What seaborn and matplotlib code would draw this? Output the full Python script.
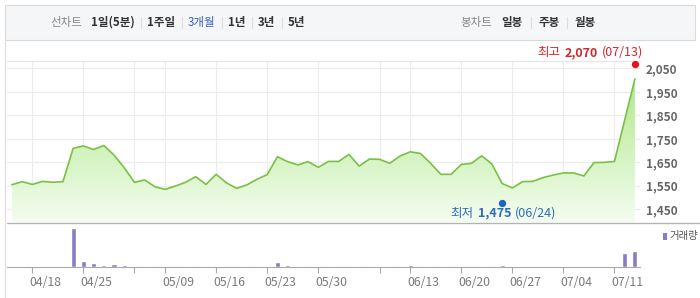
import numpy as np
import pandas as pd
import matplotlib
matplotlib.use("Agg")
import matplotlib.pyplot as plt
import seaborn as sns
from matplotlib.patches import Rectangle
from matplotlib.lines import Line2D
from matplotlib.colors import LinearSegmentedColormap
import matplotlib.transforms as mtransforms

# ---------------- data ----------------
dates = ["04/14", "04/15", "04/18", "04/19", "04/20", "04/21", "04/22",
         "04/25", "04/26", "04/27", "04/28", "04/29",
         "05/02", "05/03", "05/04",
         "05/09", "05/10", "05/11", "05/12", "05/13",
         "05/16", "05/17", "05/18", "05/19", "05/20",
         "05/23", "05/24", "05/25", "05/26", "05/27",
         "05/30", "05/31", "06/01", "06/02", "06/03",
         "06/07", "06/08", "06/09", "06/10",
         "06/13", "06/14", "06/15", "06/16", "06/17",
         "06/20", "06/21", "06/22", "06/23", "06/24",
         "06/27", "06/28", "06/29", "06/30", "07/01",
         "07/04", "07/05", "07/06", "07/07", "07/08",
         "07/11", "07/12", "07/13"]
close = [1555, 1568, 1556, 1569, 1565, 1568, 1710,
         1720, 1705, 1722, 1681, 1627,
         1565, 1575, 1546,
         1535, 1549, 1565, 1589, 1556,
         1599, 1563, 1539, 1554, 1578,
         1598, 1674, 1653, 1639, 1653,
         1629, 1654, 1654, 1684, 1634,
         1664, 1663, 1646, 1677,
         1695, 1688, 1646, 1599, 1599,
         1641, 1646, 1678, 1643, 1560,
         1541, 1568, 1569, 1585, 1596,
         1605, 1605, 1592, 1649, 1650,
         1654, 1830, 2005]
volume = [0.5, 0.5, 0.5, 0.5, 0.5, 0.5, 118,
          18, 10, 5, 7, 4,
          2, 1, 1,
          1, 1, 1, 1, 1,
          1, 1, 1, 1, 1,
          1, 15, 5, 2, 1,
          1, 1, 1, 2, 2,
          1, 1, 1, 1,
          5, 2, 2, 2, 2,
          1, 1, 1, 1, 4,
          0.5, 0.5, 0.5, 0.5, 0.5,
          0.5, 0.5, 0.5, 2, 0.5,
          0.5, 43, 47]
grid_dates = ["04/18", "04/25", "05/02", "05/09", "05/16", "05/23", "05/30",
              "06/08", "06/13", "06/20", "06/27", "07/04", "07/11"]
grid_labels = ["04/18", "04/25", "", "05/09", "05/16", "05/23", "05/30",
               "", "06/13", "06/20", "06/27", "07/04", "07/11"]
y_ticks = [1450, 1550, 1650, 1750, 1850, 1950, 2050]
high_value, high_date = 2070, "07/13"
low_value, low_date = 1475, "06/24"
header_left = [("선차트", "normal", "#888888"), ("1일(5분)", "bold", "#333333"),
               ("1주일", "bold", "#333333"), ("3개월", "normal", "#3a5fbf"),
               ("1년", "bold", "#333333"), ("3년", "bold", "#333333"),
               ("5년", "bold", "#333333")]
header_right = [("봉차트", "normal", "#888888"), ("일봉", "bold", "#333333"),
                ("주봉", "bold", "#333333"), ("월봉", "bold", "#333333")]
legend_label = "거래량"

# ---------------- setup ----------------
sns.set_theme(style="white")
plt.rcParams['font.family'] = ['Noto Sans CJK KR', 'DejaVu Sans']

W, H = 700, 298
fig = plt.figure(figsize=(W / 100, H / 100), dpi=100)
fig.patch.set_facecolor("white")


def fx(px):
    return px / W


def fy(py):
    return 1 - py / H


df = pd.DataFrame({"pos": np.arange(len(dates)), "date": dates,
                   "close": close, "volume": volume})
pos_of = {d: i for i, d in enumerate(dates)}
grid_pos = [pos_of[d] for d in grid_dates]
XL = (-0.48, 61.5)
YL = (1396, 2083)

# ---------------- header ----------------
fig.add_artist(Rectangle((fx(5), fy(40)), fx(690), 35 / H, transform=fig.transFigure,
                         facecolor="#f5f6f8", edgecolor="#dadada", lw=0.8))
renderer = fig.canvas.get_renderer()


def header_group(items, x0, y, first_gap, gap):
    cur = x0
    for k, (s, w, c) in enumerate(items):
        t = fig.text(fx(cur), fy(y), s, fontsize=8.3, fontweight=w, color=c,
                     ha="left", va="center")
        wd = t.get_window_extent(renderer).width
        cur += wd
        if k == 0:
            cur += first_gap
            continue
        if k < len(items) - 1:
            fig.add_artist(Line2D([fx(cur + gap / 2)] * 2, [fy(y - 5.5), fy(y + 5.5)],
                                  transform=fig.transFigure, color="#dddddd", lw=0.8))
        cur += gap


header_group(header_left, 50, 22.5, 9, 12.5)
header_group(header_right, 460, 22.5, 10, 15)

# left border
fig.add_artist(Line2D([fx(5), fx(5)], [fy(40), fy(298)], transform=fig.transFigure,
                      color="#dddddd", lw=0.8))

# ---------------- price panel ----------------
ax = fig.add_axes([fx(7), fy(222), fx(633), (222 - 60.7) / H])
poly = ax.fill_between(df["pos"], df["close"], YL[0], facecolor="none", edgecolor="none")
cmap = LinearSegmentedColormap.from_list("g", ["#f4fdf0", "#a8e57e"])
grad = np.linspace(0, 1, 256).reshape(-1, 1)
im = ax.imshow(grad, cmap=cmap, aspect="auto", origin="lower",
               extent=[df["pos"].min(), df["pos"].max(), YL[0], YL[1]], zorder=1)
im.set_clip_path(poly.get_paths()[0], transform=ax.transData)
sns.lineplot(data=df, x="pos", y="close", ax=ax, color="#79c145", lw=1.2, zorder=3)

ax.set_xlim(*XL)
ax.set_ylim(*YL)
ax.set_xticks(grid_pos)
ax.set_xticklabels([])
ax.set_yticks(y_ticks)
ax.set_yticklabels([f"{v:,}" for v in y_ticks])
ax.yaxis.tick_right()
ax.tick_params(axis="y", length=0, pad=4, labelsize=8.5, labelcolor="#666666")
for lab in ax.get_yticklabels():
    lab.set_fontweight("bold")
ax.tick_params(axis="x", length=0)
ax.grid(True, color="#ececec", lw=0.8)
ax.set_xlabel("")
ax.set_ylabel("")
for side in ["left", "right", "bottom"]:
    ax.spines[side].set_visible(False)
ax.spines["top"].set_color("#e6e6e6")
ax.spines["top"].set_linewidth(0.8)
ax.set_facecolor("white")

# high / low markers
ax.scatter([pos_of[high_date]], [high_value], s=18, color="#e8101a", zorder=5, clip_on=False)
ax.scatter([pos_of[low_date]], [low_value], s=18, color="#1763c6", zorder=5, clip_on=False)


def runs_text(runs, x_px, y_px, anchor, color, size):
    texts, widths = [], []
    for s, w, g in runs:
        t = fig.text(0, 0, s, fontsize=size, fontweight=w, color=color,
                     ha="left", va="center", zorder=6)
        widths.append(t.get_window_extent(renderer).width + g)
        texts.append(t)
    total = sum(widths)
    cur = x_px - total if anchor == "right" else (x_px - total / 2 if anchor == "center" else x_px)
    for t, wd in zip(texts, widths):
        t.set_position((fx(cur), fy(y_px)))
        cur += wd


runs_text([("최고", "normal", 4), (f"{high_value:,}", "bold", 4), (f"({high_date})", "normal", 0)],
          643, 52.5, "right", "#d2262c", 9)
runs_text([("최저", "normal", 4), (f"{low_value:,}", "bold", 4), (f"({low_date})", "normal", 0)],
          503.5, 213, "center", "#2b6cc0", 9)

# separator line
fig.add_artist(Line2D([fx(7), fx(700)], [fy(223), fy(223)], transform=fig.transFigure,
                      color="#b4b4b4", lw=1.0))

# ---------------- volume panel ----------------
vax = fig.add_axes([fx(7), fy(266.7), fx(633), (266.7 - 224.5) / H])
sns.barplot(data=df, x="pos", y="volume", native_scale=True, width=0.5,
            color="#8c7bc4", saturation=1, errorbar=None, ax=vax, zorder=2)
vax.set_xlim(*XL)
vax.set_ylim(0, 128)
vax.set_yticks([])
vax.set_xticks(grid_pos)
vax.set_xticklabels(grid_labels)
vax.tick_params(axis="x", length=4, width=0.8, color="#aaaaaa", direction="out",
                pad=2.5, labelsize=8.8, labelcolor="#7a7a7a", bottom=True)
off = mtransforms.ScaledTranslation(-3 / 100, 0, fig.dpi_scale_trans)
for lab in vax.get_xticklabels():
    lab.set_ha("left")
    lab.set_transform(lab.get_transform() + off)
vax.set_xlabel("")
vax.set_ylabel("")
for side in ["left", "right", "top"]:
    vax.spines[side].set_visible(False)
vax.spines["bottom"].set_color("#aaaaaa")
vax.spines["bottom"].set_linewidth(0.8)
vax.set_facecolor("white")

# volume legend
fig.add_artist(Rectangle((fx(663), fy(240)), fx(3.5), 7.5 / H, transform=fig.transFigure,
                         facecolor="#8c7bc4", edgecolor="none"))
fig.text(fx(669), fy(236.5), legend_label, fontsize=7.5, color="#555555", ha="left", va="center")

fig.savefig("out.png", dpi=100)
